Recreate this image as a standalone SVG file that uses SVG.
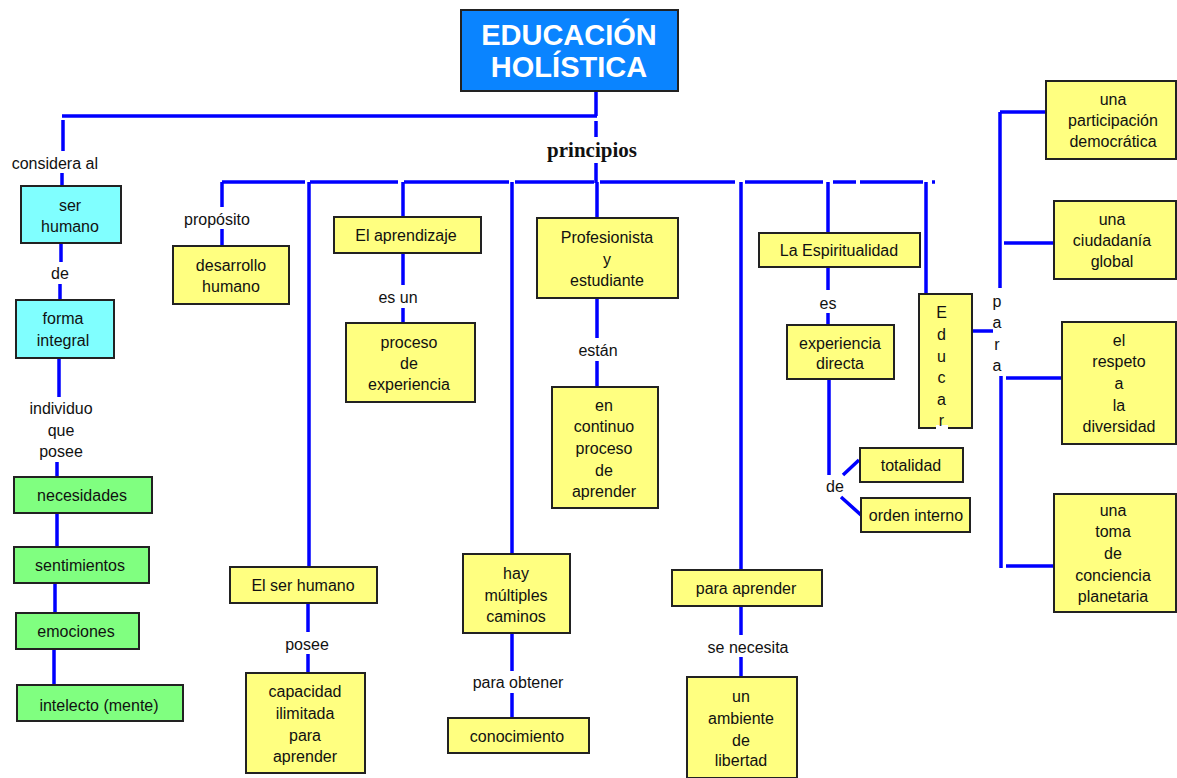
<svg xmlns="http://www.w3.org/2000/svg" width="1177" height="778" viewBox="0 0 1177 778">
<style>
.ln{stroke:#0000ff;stroke-width:3.5;fill:none}
.y{fill:#ffff80;stroke:#222;stroke-width:2}
.c{fill:#80ffff;stroke:#222;stroke-width:2}
.g{fill:#80ff80;stroke:#222;stroke-width:2}
.t{font-family:"Liberation Sans",Arial,sans-serif;font-size:16px;text-anchor:middle;fill:#111}
.ttl{font-family:"Liberation Sans",Arial,sans-serif;font-size:29px;font-weight:bold;text-anchor:middle;fill:#fff}
.pr{font-family:"Liberation Serif","Times New Roman",serif;font-size:21px;font-weight:bold;text-anchor:middle;fill:#111}
</style>
<rect width="1177" height="778" fill="#fff"/>
<g id="connectors">
<path class="ln" d="M596,91V116M62,116H597M596,121V137M596,163V183M63,120V151M62,173V186"/>
<path class="ln" d="M61,243V262M60,284V300M59,358V397M57,462V477M57,513V547M55,583V613M54,649V685"/>
<path class="ln" d="M222,182H305M310,182H398M404,182H509M515,182H594M600,182H735M745,182H823M833,182H856M860,182H923M932,182H935"/>
<path class="ln" d="M222,182V207M222,229V246"/>
<path class="ln" d="M309,182V567M308,603V632M308,654V673"/>
<path class="ln" d="M403,182V217M403,253V285M403,308V323"/>
<path class="ln" d="M512,182V554M512,633V671M512,693V718"/>
<path class="ln" d="M597,182V218M597,298V338M597,361V387"/>
<path class="ln" d="M741,182V570M741,606V635M741,657V677"/>
<path class="ln" d="M828,182V233M828,267V290M828,313V325M829,379V475M843,475L859,460M841,497L861,515"/>
<path class="ln" d="M926,182V294M972,331H993"/>
<path class="ln" d="M1000,112V288M1000,112H1046M1004,243H1054M1001,376V568M1006,378H1062M1006,566H1054"/>
</g>
<g id="labels">
<text class="t" x="98" y="168.5" text-anchor="end" style="text-anchor:end">considera al</text>
<text class="t" x="60" y="278.5">de</text>
<text class="t" x="61" y="413.5">individuo</text>
<text class="t" x="61" y="435.5">que</text>
<text class="t" x="61" y="457">posee</text>
<text class="pr" x="592" y="157">principios</text>
<text class="t" x="217" y="224.5">propósito</text>
<text class="t" x="398" y="303">es un</text>
<text class="t" x="598" y="355.5">están</text>
<text class="t" x="307" y="650">posee</text>
<text class="t" x="518" y="688">para obtener</text>
<text class="t" x="748" y="653">se necesita</text>
<text class="t" x="828" y="309">es</text>
<text class="t" x="835" y="492">de</text>
<text class="t" x="997" y="307">p</text>
<text class="t" x="997" y="328">a</text>
<text class="t" x="997" y="349.5">r</text>
<text class="t" x="997" y="371">a</text>
</g>
<g id="n-title"><rect x="461" y="10" width="217" height="81" fill="#0a84ff" stroke="#222" stroke-width="2"/><text class="ttl" x="569" y="45">EDUCACIÓN</text><text class="ttl" x="569" y="77">HOLÍSTICA</text></g>
<g id="n-serhumano"><rect class="c" x="21" y="186" width="100" height="57"/><text class="t" x="70" y="210.5">ser</text><text class="t" x="70" y="231.5">humano</text></g>
<g id="n-forma"><rect class="c" x="16" y="300" width="98" height="58"/><text class="t" x="63" y="324">forma</text><text class="t" x="63" y="345.5">integral</text></g>
<g id="n-necesidades"><rect class="g" x="14" y="477" width="138" height="36"/><text class="t" x="82" y="501">necesidades</text></g>
<g id="n-sentimientos"><rect class="g" x="14" y="547" width="135" height="36"/><text class="t" x="80" y="571">sentimientos</text></g>
<g id="n-emociones"><rect class="g" x="16" y="613" width="123" height="36"/><text class="t" x="76" y="637">emociones</text></g>
<g id="n-intelecto"><rect class="g" x="17" y="685" width="166" height="36"/><text class="t" x="99" y="710.5">intelecto (mente)</text></g>
<g id="n-desarrollo"><rect class="y" x="173" y="246" width="116" height="58"/><text class="t" x="231" y="270.5">desarrollo</text><text class="t" x="231" y="292">humano</text></g>
<g id="n-elser"><rect class="y" x="230" y="567" width="147" height="36"/><text class="t" x="303" y="591">El ser humano</text></g>
<g id="n-capacidad"><rect class="y" x="246" y="673" width="119" height="100"/><text class="t" x="305" y="697">capacidad</text><text class="t" x="305" y="719">ilimitada</text><text class="t" x="305" y="740.5">para</text><text class="t" x="305" y="762">aprender</text></g>
<g id="n-aprendizaje"><rect class="y" x="334" y="217" width="147" height="36"/><text class="t" x="406" y="240.5">El aprendizaje</text></g>
<g id="n-proceso"><rect class="y" x="346" y="323" width="129" height="79"/><text class="t" x="409" y="348">proceso</text><text class="t" x="409" y="369">de</text><text class="t" x="409" y="390">experiencia</text></g>
<g id="n-profesionista"><rect class="y" x="537" y="218" width="141" height="80"/><text class="t" x="607" y="243">Profesionista</text><text class="t" x="607" y="264.5">y</text><text class="t" x="607" y="285.5">estudiante</text></g>
<g id="n-continuo"><rect class="y" x="552" y="387" width="106" height="121"/><text class="t" x="604" y="410.5">en</text><text class="t" x="604" y="432">continuo</text><text class="t" x="604" y="454">proceso</text><text class="t" x="604" y="475.5">de</text><text class="t" x="604" y="497">aprender</text></g>
<g id="n-hay"><rect class="y" x="463" y="554" width="107" height="79"/><text class="t" x="516" y="579">hay</text><text class="t" x="516" y="600.5">múltiples</text><text class="t" x="516" y="622">caminos</text></g>
<g id="n-conocimiento"><rect class="y" x="448" y="718" width="141" height="35"/><text class="t" x="517" y="742">conocimiento</text></g>
<g id="n-paraaprender"><rect class="y" x="672" y="570" width="150" height="36"/><text class="t" x="746" y="594">para aprender</text></g>
<g id="n-ambiente"><rect class="y" x="687" y="677" width="110" height="101"/><text class="t" x="741" y="702">un</text><text class="t" x="741" y="724">ambiente</text><text class="t" x="741" y="745.5">de</text><text class="t" x="741" y="766">libertad</text></g>
<g id="n-espiritualidad"><rect class="y" x="759" y="233" width="161" height="34"/><text class="t" x="839" y="256">La Espiritualidad</text></g>
<g id="n-experiencia"><rect class="y" x="787" y="325" width="107" height="54"/><text class="t" x="840" y="349">experiencia</text><text class="t" x="840" y="369">directa</text></g>
<g id="n-totalidad"><rect class="y" x="860" y="448" width="103" height="34"/><text class="t" x="911" y="471">totalidad</text></g>
<g id="n-orden"><rect class="y" x="861" y="498" width="109" height="34"/><text class="t" x="916" y="520.5">orden interno</text></g>
<g id="n-educar"><rect class="y" x="919" y="294" width="53" height="134"/><rect x="936" y="425" width="12" height="6" fill="#fff"/><text class="t" x="941.5" y="318">E</text><text class="t" x="941.5" y="339.5">d</text><text class="t" x="941.5" y="361.5">u</text><text class="t" x="941.5" y="383">c</text><text class="t" x="941.5" y="404.5">a</text><text class="t" x="941.5" y="425.5">r</text></g>
<g id="n-participacion"><rect class="y" x="1046" y="81" width="130" height="78"/><text class="t" x="1113" y="104.5">una</text><text class="t" x="1113" y="125.5">participación</text><text class="t" x="1113" y="146.5">democrática</text></g>
<g id="n-ciudadania"><rect class="y" x="1054" y="201" width="122" height="78"/><text class="t" x="1112" y="225">una</text><text class="t" x="1112" y="245.5">ciudadanía</text><text class="t" x="1112" y="267">global</text></g>
<g id="n-respeto"><rect class="y" x="1062" y="322" width="114" height="122"/><text class="t" x="1119" y="346">el</text><text class="t" x="1119" y="367">respeto</text><text class="t" x="1119" y="389">a</text><text class="t" x="1119" y="410.5">la</text><text class="t" x="1119" y="431.5">diversidad</text></g>
<g id="n-toma"><rect class="y" x="1054" y="494" width="122" height="118"/><text class="t" x="1113" y="515.5">una</text><text class="t" x="1113" y="537">toma</text><text class="t" x="1113" y="558.5">de</text><text class="t" x="1113" y="580.5">conciencia</text><text class="t" x="1113" y="601.5">planetaria</text></g>
</svg>
